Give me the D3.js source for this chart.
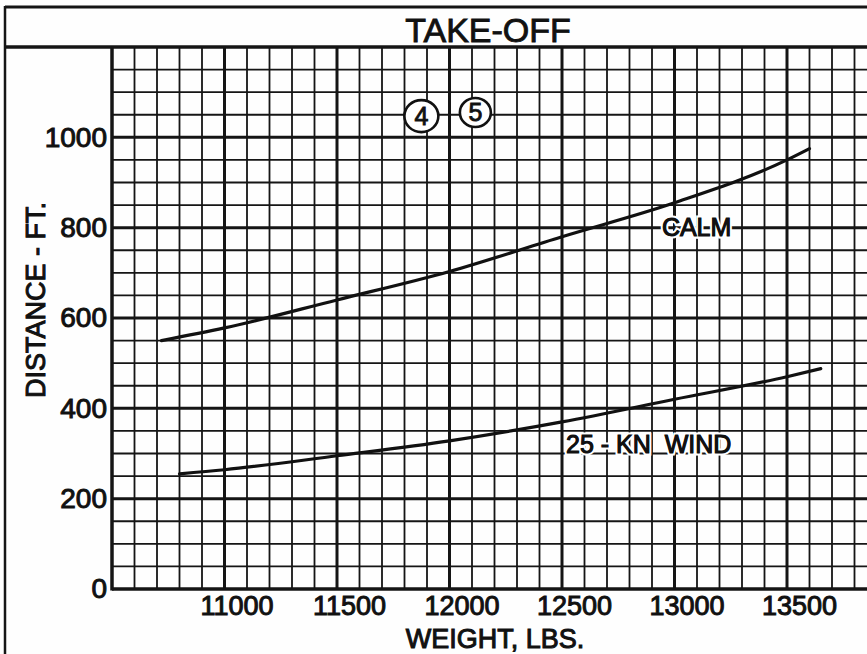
<!DOCTYPE html>
<html>
<head>
<meta charset="utf-8">
<script src="https://cdn.jsdelivr.net/npm/d3@7"></script>
<style>
  html, body { margin: 0; padding: 0; background: #fff; }
  svg { display: block; }
  text { font-family: "Liberation Sans", Arial, sans-serif; fill: #111; }
</style>
</head>
<body>
<div id="chart"></div>
<script>
// weight (lbs) and take-off distance (ft)
var calmWeight = [10720, 11000, 11500, 12000, 12500, 13000, 13500, 13600];
var calmDistance = [550, 578, 640, 703, 780, 855, 950, 975];
var windWeight = [10800, 11000, 11500, 12000, 12500, 13000, 13500, 13650];
var windDistance = [255, 264, 295, 328, 370, 420, 470, 488];

var xTicks = [11000, 11500, 12000, 12500, 13000, 13500];
var yTicks = [0, 200, 400, 600, 800, 1000];
var title = "TAKE-OFF";
var xTitle = "WEIGHT, LBS.";
var yTitle = "DISTANCE - FT.";
var seriesNames = ["CALM", "25 - KN  WIND"];
var circledNotes = ["4", "5"];

var W = 867, H = 654;
var plotLeft = 112, plotTop = 47, plotBottom = 589, plotRight = 899.5;

var svg = d3.select("#chart").append("svg")
  .attr("width", W)
  .attr("height", H);

svg.append("rect").attr("width", W).attr("height", H).attr("fill", "#fefefe");

var x = d3.scaleLinear().domain([10500, 14000]).range([plotLeft, plotRight]);
var y = d3.scaleLinear().domain([0, 1200]).range([plotBottom, plotTop]);

// graph paper
var grid = svg.append("g").attr("stroke", "#151515").attr("fill", "none");

grid.selectAll(".vminor")
  .data(d3.range(10600, 14000, 100))
  .enter().append("line")
  .attr("x1", function(d) { return x(d); })
  .attr("x2", function(d) { return x(d); })
  .attr("y1", plotTop).attr("y2", plotBottom)
  .attr("stroke-width", function(d) { return d % 500 === 0 ? 3 : 1.8; });

grid.selectAll(".hminor")
  .data(d3.range(50, 1200, 50))
  .enter().append("line")
  .attr("y1", function(d) { return y(d); })
  .attr("y2", function(d) { return y(d); })
  .attr("x1", plotLeft).attr("x2", W)
  .attr("stroke-width", function(d) { return d % 200 === 0 ? 3 : 1.8; });

// plot edges and outer frame
grid.append("line").attr("x1", plotLeft).attr("x2", plotLeft).attr("y1", plotTop).attr("y2", plotBottom + 1.5).attr("stroke-width", 3.5);
grid.append("line").attr("x1", plotLeft).attr("x2", W).attr("y1", plotBottom).attr("y2", plotBottom).attr("stroke-width", 3.5);
grid.append("line").attr("x1", 5).attr("x2", W).attr("y1", plotTop).attr("y2", plotTop).attr("stroke-width", 3.5);
grid.append("line").attr("x1", 5).attr("x2", W).attr("y1", 7).attr("y2", 7).attr("stroke-width", 3);
grid.append("line").attr("x1", 5).attr("x2", 5).attr("y1", 6).attr("y2", H).attr("stroke-width", 2.5);

// curves
var line = d3.line()
  .x(function(d) { return x(d[0]); })
  .y(function(d) { return y(d[1]); })
  .curve(d3.curveMonotoneX);

var series = [d3.zip(calmWeight, calmDistance), d3.zip(windWeight, windDistance)];

svg.selectAll(".curve")
  .data(series)
  .enter().append("path")
  .attr("d", line)
  .attr("fill", "none")
  .attr("stroke", "#111")
  .attr("stroke-width", 3.2)
  .attr("stroke-linecap", "round");

// curve labels
var labelAt = [[12944, 781], [12518, 302]];
svg.selectAll(".lbl")
  .data(seriesNames)
  .enter().append("text")
  .attr("x", function(d, i) { return x(labelAt[i][0]); })
  .attr("y", function(d, i) { return y(labelAt[i][1]); })
  .attr("font-size", 25)
  .style("white-space", "pre")
  .attr("stroke", "#fff")
  .attr("stroke-width", 5)
  .attr("paint-order", "stroke")
  .text(function(d) { return d; });
svg.selectAll(".lbl2")
  .data(seriesNames)
  .enter().append("text")
  .attr("x", function(d, i) { return x(labelAt[i][0]); })
  .attr("y", function(d, i) { return y(labelAt[i][1]); })
  .attr("font-size", 25)
  .style("white-space", "pre")
  .attr("stroke", "#111")
  .attr("stroke-width", 1)
  .text(function(d) { return d; });

// circled notes
var noteAt = [[11875, 1047], [12115, 1055]];
var notes = svg.selectAll(".note")
  .data(circledNotes)
  .enter().append("g")
  .attr("transform", function(d, i) { return "translate(" + x(noteAt[i][0]) + "," + y(noteAt[i][1]) + ")"; });
notes.append("ellipse")
  .attr("rx", function(d, i) { return i ? 15.5 : 17; })
  .attr("ry", function(d, i) { return i ? 14.5 : 16; })
  .attr("fill", "#fff")
  .attr("stroke", "#111")
  .attr("stroke-width", 2.6);
notes.append("text")
  .attr("text-anchor", "middle")
  .attr("dy", "0.36em")
  .attr("font-size", 25)
  .attr("stroke", "#111")
  .attr("stroke-width", 0.9)
  .text(function(d) { return d; });

// axes labels
var yAxis = d3.axisLeft(y).tickValues(yTicks).tickSize(0).tickPadding(5).tickFormat(d3.format("d"));
var ya = svg.append("g").attr("transform", "translate(" + plotLeft + ",0)").call(yAxis);
ya.select(".domain").remove();
ya.selectAll("text")
  .attr("font-size", 28)
  .attr("fill", "#111")
  .attr("stroke", "#111")
  .attr("stroke-width", 1)
  .attr("font-family", "Liberation Sans, Arial, sans-serif");

var xAxis = d3.axisBottom(x).tickValues(xTicks).tickSize(0).tickPadding(7).tickFormat(d3.format("d"));
var xa = svg.append("g").attr("transform", "translate(0," + plotBottom + ")").call(xAxis);
xa.select(".domain").remove();
xa.selectAll("text")
  .attr("font-size", 27)
  .attr("dx", 12)
  .attr("fill", "#111")
  .attr("stroke", "#111")
  .attr("stroke-width", 1)
  .attr("font-family", "Liberation Sans, Arial, sans-serif");

svg.append("text")
  .attr("x", 488).attr("y", 42)
  .attr("text-anchor", "middle")
  .attr("font-size", 34)
  .attr("stroke", "#111").attr("stroke-width", 0.9)
  .text(title);

svg.append("text")
  .attr("x", 495).attr("y", 648)
  .attr("text-anchor", "middle")
  .attr("font-size", 27)
  .attr("stroke", "#111").attr("stroke-width", 1)
  .text(xTitle);

svg.append("text")
  .attr("transform", "translate(45,300) rotate(-90)")
  .attr("text-anchor", "middle")
  .attr("font-size", 27)
  .attr("stroke", "#111").attr("stroke-width", 1)
  .text(yTitle);
</script>
</body>
</html>
